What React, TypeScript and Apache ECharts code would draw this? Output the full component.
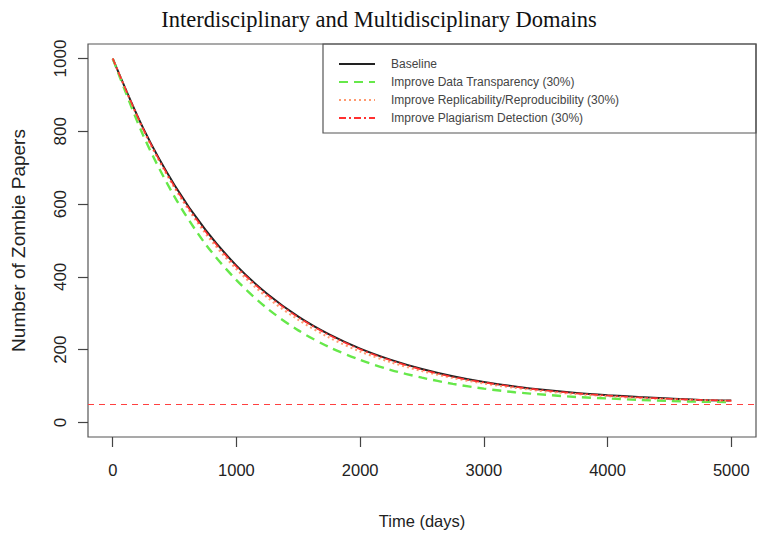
import React, { useEffect, useRef } from "react";
import * as echarts from "echarts";

const days = [0, 250, 500, 750, 1000, 1250, 1500, 1750, 2000, 2250, 2500, 2750, 3000, 3250, 3500, 3750, 4000, 4250, 4500, 4750, 5000];
const baseline = [1000, 806, 652, 529, 431, 353, 291, 242, 203, 172, 147, 127, 111, 99, 89, 81, 75, 70, 66, 62, 60];
const dataTransparency = [1000, 786, 620, 490, 391, 313, 253, 207, 172, 144, 123, 106, 93, 83, 76, 70, 66, 62, 59, 57, 56];
const replicability = [1000, 801, 644, 519, 421, 343, 282, 233, 195, 165, 141, 122, 107, 95, 85, 78, 72, 67, 64, 61, 59];
const plagiarism = [1000, 804, 648, 525, 428, 350, 289, 240, 201, 170, 145, 125, 110, 98, 88, 80, 74, 69, 65, 62, 60];
const threshold = 50;
const xTicks = [0, 1000, 2000, 3000, 4000, 5000];
const yTicks = [0, 200, 400, 600, 800, 1000];
const seriesNames = [
  "Baseline",
  "Improve Data Transparency (30%)",
  "Improve Replicability/Reproducibility (30%)",
  "Improve Plagiarism Detection (30%)",
];

const SANS = "Liberation Sans, Arial, Helvetica, sans-serif";

export default function App() {
  const ref = useRef<HTMLDivElement>(null);
  useEffect(() => {
    if (!ref.current) return;
    const chart = echarts.init(ref.current, null, { renderer: "svg" });
    const pairs = (vals: number[]) => days.map((d, i) => [d, vals[i]]);
    const option: any = {
      animation: false,
      backgroundColor: "#ffffff",
      title: {
        text: "Interdisciplinary and Multidisciplinary Domains",
        left: "center",
        top: 3,
        textStyle: {
          fontFamily: "Liberation Serif, Times New Roman, serif",
          fontSize: 22.5,
          fontWeight: "normal",
          color: "#111",
        },
      },
      grid: {
        left: 88,
        top: 44,
        width: 668,
        height: 393,
        show: true,
        borderColor: "#555",
        borderWidth: 1.2,
        backgroundColor: "transparent",
      },
      legend: {
        orient: "vertical",
        left: 333,
        top: 53,
        itemWidth: 36,
        itemHeight: 12,
        itemGap: 6,
        data: seriesNames,
        itemStyle: { opacity: 0 },
        textStyle: {
          fontFamily: SANS,
          fontSize: 12,
          color: "#444",
          lineHeight: 12,
          padding: [0, 0, 0, 11],
        },
      },
      graphic: [
        {
          type: "rect",
          shape: { x: 323, y: 44, width: 433, height: 89 },
          style: { fill: "none", stroke: "#555", lineWidth: 1.2 },
          silent: true,
          z: 1,
        },
      ],
      xAxis: {
        type: "value",
        min: -200,
        max: 5200,
        name: "Time (days)",
        nameLocation: "middle",
        nameGap: 75,
        nameTextStyle: { fontFamily: SANS, fontSize: 16.5, color: "#222" },
        axisLine: { show: false, onZero: false },
        axisTick: { show: true, inside: false, customValues: xTicks, length: 10, lineStyle: { color: "#444", width: 1.2 } },
        axisLabel: {
          customValues: xTicks,
          margin: 24,
          fontFamily: SANS,
          fontSize: 16.5,
          color: "#222",
          formatter: (v: number) => String(v),
        },
        splitLine: { show: false },
      },
      yAxis: {
        type: "value",
        min: -40,
        max: 1040,
        name: "Number of Zombie Papers",
        nameLocation: "middle",
        nameGap: 60,
        nameTextStyle: { fontFamily: SANS, fontSize: 19, color: "#222" },
        axisLine: { show: false, onZero: false },
        axisTick: { show: true, inside: false, customValues: yTicks, length: 10, lineStyle: { color: "#444", width: 1.2 } },
        axisLabel: {
          customValues: yTicks,
          rotate: 90,
          margin: 19,
          fontFamily: SANS,
          fontSize: 17,
          color: "#222",
          formatter: (v: number) => String(v),
        },
        splitLine: { show: false },
      },
      series: [
        {
          name: seriesNames[0],
          type: "line",
          data: pairs(baseline),
          showSymbol: false,
          symbol: "none",
          smooth: 0.3,
          color: "#222222",
          lineStyle: { color: "#222222", width: 2, type: "solid" },
          z: 2,
          markLine: {
            silent: true,
            symbol: "none",
            label: { show: false },
            lineStyle: { color: "#ff4040", width: 1.2, type: [6, 5] },
            data: [{ yAxis: threshold }],
          },
        },
        {
          name: seriesNames[1],
          type: "line",
          data: pairs(dataTransparency),
          showSymbol: false,
          symbol: "none",
          smooth: 0.3,
          color: "#66e84a",
          lineStyle: { color: "#66e84a", width: 2.4, type: [9, 6] },
          z: 3,
        },
        {
          name: seriesNames[2],
          type: "line",
          data: pairs(replicability),
          showSymbol: false,
          symbol: "none",
          smooth: 0.3,
          color: "#ff9a70",
          lineStyle: { color: "#ff9a70", width: 2, type: [2, 3] },
          z: 4,
        },
        {
          name: seriesNames[3],
          type: "line",
          data: pairs(plagiarism),
          showSymbol: false,
          symbol: "none",
          smooth: 0.3,
          color: "#ff3030",
          lineStyle: { color: "#ff3030", width: 1.6, type: [7, 3, 2, 3] },
          z: 5,
        },
      ],
    };
    chart.setOption(option);
    return () => chart.dispose();
  }, []);
  return <div ref={ref} style={{ width: 758, height: 534, position: "absolute", left: 0, top: 0 }} />;
}
